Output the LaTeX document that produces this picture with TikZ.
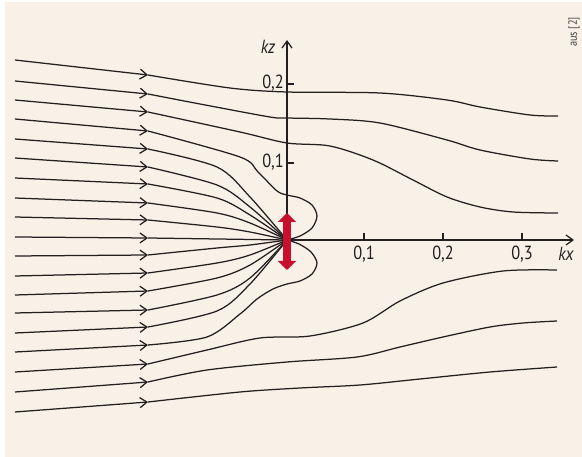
\documentclass[tikz,border=0pt]{standalone}
\usepackage{fontspec}
\setmainfont{PT Sans}[FakeStretch=0.86]
\usetikzlibrary{arrows.meta}
\definecolor{paper}{RGB}{249,241,231}
\definecolor{dipolered}{RGB}{200,16,46}
\definecolor{ink}{RGB}{35,31,32}

\begin{document}
\begin{tikzpicture}[x=1pt, y=-1pt,
    flow/.style={draw=ink, line width=1.25pt},
    flowtip/.style={flow, -{Straight Barb[length=7pt, width=10pt]}},
    axis/.style={draw=ink, line width=1.25pt},
    axisarrow/.style={axis, -{Straight Barb[length=7pt, width=10pt]}},
    ticklabel/.style={font=\fontsize{19pt}{21pt}\selectfont, text=ink, inner sep=1pt},
    axislabel/.style={ticklabel, font=\fontsize{19pt}{21pt}\selectfont\itshape},
    dipole/.style={draw=dipolered, line width=8.5pt,
                   {Triangle[width=18pt, length=9pt]}-{Triangle[width=18pt, length=9pt]}}
]
    \useasboundingbox (0,0) rectangle (582,457);
    \fill[paper] (5,2) rectangle (582,457);
    \coordinate (O) at (287,240);

    % field lines, upper half
    \draw[flowtip] (15,60) -- (148,75);
    \draw[flow] plot[smooth, tension=0.5] coordinates {(148,75) (230,88) (287,92) (380,93) (447,100) (480,107) (530,115) (558,116)};
    \draw[flowtip] (15,81) -- (148,94);
    \draw[flow] plot[smooth, tension=0.5] coordinates {(148,94) (200,104) (270,117) (287,118) (330,119) (380,123) (447,140) (480,150) (530,159) (558,161)};
    \draw[flowtip] (15,100) -- (148,112);
    \draw[flow] plot[smooth, tension=0.5] coordinates {(148,112) (240,132) (287,143) (330,146) (373,160) (413,180) (447,197) (480,207) (513,212) (558,213)};
    \draw[flowtip] (15,119) -- (148,131);
    \draw[flow] plot[smooth, tension=0.5] coordinates {(148,131) (240,157) (258,172) (277,191) (287,195) (300,198) (312,205) (317,216) (312,228) (300,236) (287,240)};
    \draw[flowtip] (15,139) -- (148,149);
    \draw[flow] plot[smooth, tension=0.5] coordinates {(148,149) (217,167) (250,197) (287,240)};
    \draw[flowtip] (15,158) -- (148,167);
    \draw[flow] plot[smooth, tension=0.5] coordinates {(148,167) (217,185) (250,207) (287,240)};
    \draw[flowtip] (15,178) -- (148,184);
    \draw[flow] plot[smooth, tension=0.5] coordinates {(148,184) (217,198) (250,215) (287,240)};
    \draw[flowtip] (15,198) -- (148,203);
    \draw[flow] plot[smooth, tension=0.5] coordinates {(148,203) (217,213) (250,223) (287,240)};
    \draw[flowtip] (15,217) -- (148,220);
    \draw[flow] plot[smooth, tension=0.5] coordinates {(148,220) (217,227) (250,232) (287,240)};
    \draw[flowtip] (15,237) -- (148,238);
    \draw[flow] (148,238) -- (O);

    % field lines, lower half
    \draw[flowtip] (15,256) -- (148,255);
    \draw[flow] plot[smooth, tension=0.5] coordinates {(148,255) (217,248) (250,245) (287,240)};
    \draw[flowtip] (15,276) -- (148,273);
    \draw[flow] plot[smooth, tension=0.5] coordinates {(148,273) (217,263) (250,255) (287,240)};
    \draw[flowtip] (15,295) -- (148,291);
    \draw[flow] plot[smooth, tension=0.5] coordinates {(148,291) (217,278) (250,265) (287,240)};
    \draw[flowtip] (15,313) -- (148,310);
    \draw[flow] plot[smooth, tension=0.5] coordinates {(148,310) (217,295) (250,278) (287,240)};
    \draw[flowtip] (15,333) -- (148,327);
    \draw[flow] plot[smooth, tension=0.5] coordinates {(148,327) (217,311) (250,284) (287,240)};
    \draw[flowtip] (15,352) -- (148,345);
    \draw[flow] plot[smooth, tension=0.5] coordinates {(148,345) (207,337) (240,314) (257,299) (273,289) (287,284) (300,281) (312,274) (317,263) (311,252) (299,244) (287,240)};
    \draw[flowtip] (15,372) -- (148,364);
    \draw[flow] plot[smooth, tension=0.5] coordinates {(148,364) (207,350) (260,338) (310,336) (363,323) (400,301) (443,283) (503,271) (557,270)};
    \draw[flowtip] (15,392) -- (148,382);
    \draw[flow] plot[smooth, tension=0.5] coordinates {(148,382) (207,370) (287,362) (357,357) (400,347) (443,337) (490,327) (523,323) (557,321)};
    \draw[flowtip] (15,412) -- (148,402);
    \draw[flow] plot[smooth, tension=0.5] coordinates {(148,402) (240,392) (300,388) (360,385) (420,379) (490,372) (557,367)};

    % axes
    \draw[axisarrow] (O) -- (287,40);
    \draw[axisarrow] (O) -- (574,240);
    \draw[axis] (287,163) -- (294,163);
    \draw[axis] (287,84) -- (294,84);
    \draw[axis] (364,240) -- (364,233);
    \draw[axis] (443,240) -- (443,233);
    \draw[axis] (522,240) -- (522,233);
    \node[ticklabel, anchor=east] (z1) at (285,162) {0,1};
    \node[ticklabel, anchor=east] (z2) at (285,83) {0,2};
    \node[ticklabel, anchor=north] (x1) at (364,245) {0,1};
    \node[ticklabel, anchor=north] (x2) at (443,245) {0,2};
    \node[ticklabel, anchor=north] (x3) at (522,245) {0,3};
    \node[axislabel] (kz) at (268,47) {kz};
    \node[axislabel] (kx) at (566,254) {kx};

    % dipole
    \draw[dipole] (287,270) -- (287,213);

    \node[font=\fontsize{12pt}{13pt}\selectfont, text=ink!85, inner sep=0pt] (src) at (574,32) {\rotatebox{90}{aus [2]}};
\end{tikzpicture}
\end{document}
